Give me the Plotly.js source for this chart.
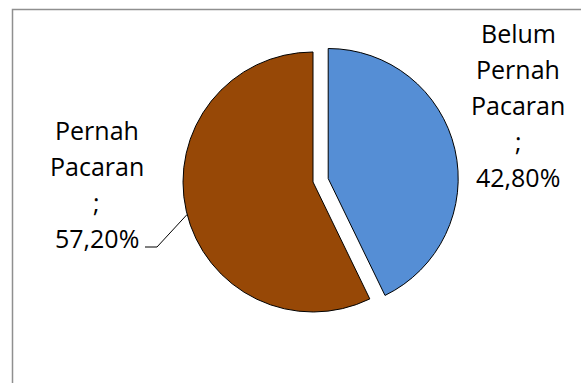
<!DOCTYPE html>
<html>
<head>
<meta charset="utf-8">
<script src="https://cdn.plot.ly/plotly-3.0.1.min.js"></script>
<style>html,body{margin:0;padding:0;background:#fff;}#chart{width:581px;height:383px;}</style>
</head>
<body>
<div id="chart"></div>
<script>
// ---- data ----
var categories = ["Belum Pernah Pacaran", "Pernah Pacaran"];
var values = [42.8, 57.2];
var sliceColors = ["#558ED5", "#974806"];
var pulls = [0.12, 0];

// ---- layout geometry (pixels) ----
var W = 581, H = 383;
var cx = 313, cy = 182, R = 130;
function px(x) { return x / W; }
function py(y) { return 1 - y / H; }
var maxPull = Math.max.apply(null, pulls);
var half = R * (1 + maxPull);

function fmt(v) { return v.toFixed(2).replace('.', ',') + '%'; }

// label blocks: center x, first line y (px)
var labelPos = [{x: 518, y: 33}, {x: 97, y: 130}];
var lineGap = 36;
var fontSpec = {family: "Open Sans, Lato, sans-serif", size: 25, color: "#000"};

var annotations = [];
categories.forEach(function (c, i) {
  var lines = c.split(' ');
  if (i === 0) lines = ["Belum", "Pernah", "Pacaran"];
  lines = lines.concat([";", fmt(values[i])]);
  lines.forEach(function (t, k) {
    annotations.push({
      text: t, xref: 'paper', yref: 'paper',
      x: px(labelPos[i].x), y: py(labelPos[i].y + k * lineGap),
      xanchor: 'center', yanchor: 'middle', showarrow: false, font: fontSpec
    });
  });
});

// leader line for second label, ending at the slice edge (mid-angle of the slice)
var total = values.reduce(function (a, b) { return a + b; }, 0);
var startFrac = values[0] / total;
var edgeAngleDeg = 360 * (startFrac + (values[1] / total) * 0.5) - 1.5;
var ea = edgeAngleDeg * Math.PI / 180;
var ex = cx + R * Math.sin(ea), ey = cy - R * Math.cos(ea);
var lastLineY = labelPos[1].y + 3 * lineGap + 9;
var lx0 = 145, lx1 = 157;

var shapes = [
  {type: 'rect', xref: 'paper', yref: 'paper', x0: px(12.5), x1: px(600), y0: py(9.5), y1: py(400),
   line: {color: '#8f8f8f', width: 1.5}, fillcolor: 'rgba(0,0,0,0)', layer: 'below'},
  {type: 'path', xref: 'paper', yref: 'paper',
   path: 'M ' + px(lx0) + ' ' + py(lastLineY) + ' L ' + px(lx1) + ' ' + py(lastLineY) + ' L ' + px(ex) + ' ' + py(ey),
   line: {color: '#000', width: 1}}
];

var trace = {
  type: 'pie',
  labels: categories,
  values: values,
  sort: false,
  direction: 'clockwise',
  rotation: 0,
  pull: pulls,
  textinfo: 'none',
  hoverinfo: 'label+percent',
  marker: {colors: sliceColors, line: {color: '#000', width: 1}},
  domain: {x: [px(cx - half), px(cx + half)], y: [py(cy + half), py(cy - half)]}
};

var layout = {
  width: W, height: H,
  margin: {l: 0, r: 0, t: 0, b: 0},
  paper_bgcolor: '#fff',
  showlegend: false,
  annotations: annotations,
  shapes: shapes
};

Plotly.newPlot('chart', [trace], layout, {staticPlot: true, displayModeBar: false});
</script>
</body>
</html>
